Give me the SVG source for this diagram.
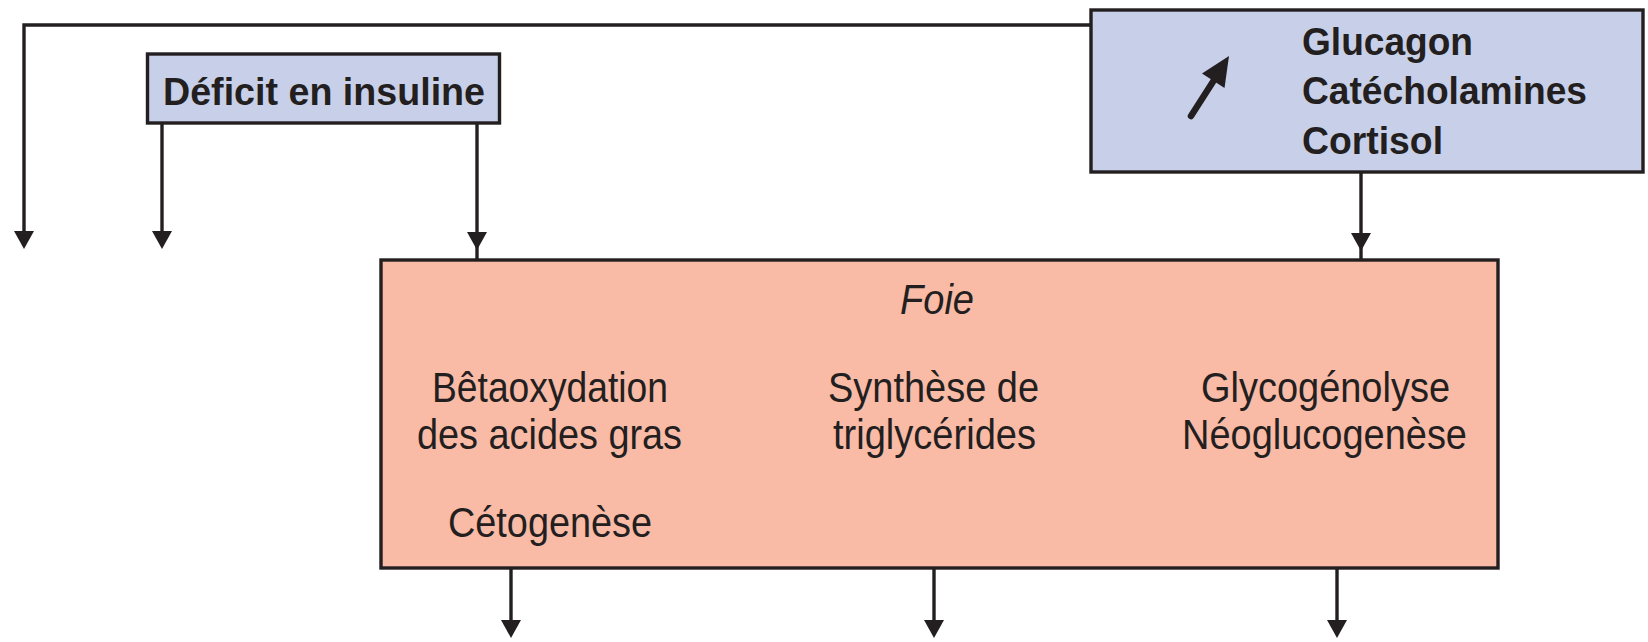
<svg xmlns="http://www.w3.org/2000/svg" xmlns:xlink="http://www.w3.org/1999/xlink" width="1648" height="642" viewBox="0 0 1648 642">
<style>
.box{stroke:#231f20;stroke-width:3.4}
.blue{fill:#c8cfe8}
.salmon{fill:#f9baa6}
.ln{stroke:#231f20;stroke-width:3.4;fill:none}
.b{font-family:"Liberation Sans",Arial,sans-serif;font-weight:bold;font-size:38px;fill:#231f20}
.r{font-family:"Liberation Sans",Arial,sans-serif;font-size:43px;fill:#231f20}
.i{font-style:italic}
</style>
<defs>
<path id="ah" d="M-10,0 L10,0 L0,18 Z" fill="#231f20"/>
</defs>
<rect x="0" y="0" width="1648" height="642" fill="#ffffff"/>

<g id="connectors">
<path class="ln" d="M24,231 V25 H1091"/>
<use xlink:href="#ah" x="24" y="231"/>
<line class="ln" x1="162" y1="124" x2="162" y2="232"/>
<use xlink:href="#ah" x="162" y="231"/>
<line class="ln" x1="477" y1="124" x2="477" y2="260"/>
<use xlink:href="#ah" x="477" y="232"/>
<line class="ln" x1="1361" y1="172" x2="1361" y2="260"/>
<use xlink:href="#ah" x="1361" y="233"/>
<line class="ln" x1="511" y1="568" x2="511" y2="630"/>
<use xlink:href="#ah" x="511" y="620"/>
<line class="ln" x1="934" y1="568" x2="934" y2="630"/>
<use xlink:href="#ah" x="934" y="620"/>
<line class="ln" x1="1337" y1="568" x2="1337" y2="630"/>
<use xlink:href="#ah" x="1337" y="620"/>
</g>

<g id="node-deficit">
<rect class="box blue" x="147.5" y="54" width="352" height="69"/>
<text class="b" x="163" y="105" textLength="322" lengthAdjust="spacingAndGlyphs">Déficit en insuline</text>
</g>

<g id="node-hormones">
<rect class="box blue" x="1091" y="10" width="552" height="162"/>
<line x1="1191" y1="116" x2="1216" y2="77" stroke="#231f20" stroke-width="6.5" stroke-linecap="round"/>
<polygon points="1229,56 1224.5,88 1202,73.5" fill="#231f20"/>
<text class="b" x="1302" y="55" textLength="171" lengthAdjust="spacingAndGlyphs">Glucagon</text>
<text class="b" x="1302" y="104" textLength="285" lengthAdjust="spacingAndGlyphs">Catécholamines</text>
<text class="b" x="1302" y="154" textLength="141" lengthAdjust="spacingAndGlyphs">Cortisol</text>
</g>

<g id="node-foie">
<rect class="box salmon" x="381" y="260" width="1117" height="308"/>
<text class="r i" x="900" y="314" textLength="74" lengthAdjust="spacingAndGlyphs">Foie</text>
<text class="r" x="432" y="402" textLength="236" lengthAdjust="spacingAndGlyphs">Bêtaoxydation</text>
<text class="r" x="417" y="449" textLength="265" lengthAdjust="spacingAndGlyphs">des acides gras</text>
<text class="r" x="448" y="537" textLength="204" lengthAdjust="spacingAndGlyphs">Cétogenèse</text>
<text class="r" x="828" y="402" textLength="211" lengthAdjust="spacingAndGlyphs">Synthèse de</text>
<text class="r" x="833" y="449" textLength="203" lengthAdjust="spacingAndGlyphs">triglycérides</text>
<text class="r" x="1201" y="402" textLength="249" lengthAdjust="spacingAndGlyphs">Glycogénolyse</text>
<text class="r" x="1182" y="449" textLength="285" lengthAdjust="spacingAndGlyphs">Néoglucogenèse</text>
</g>
</svg>
